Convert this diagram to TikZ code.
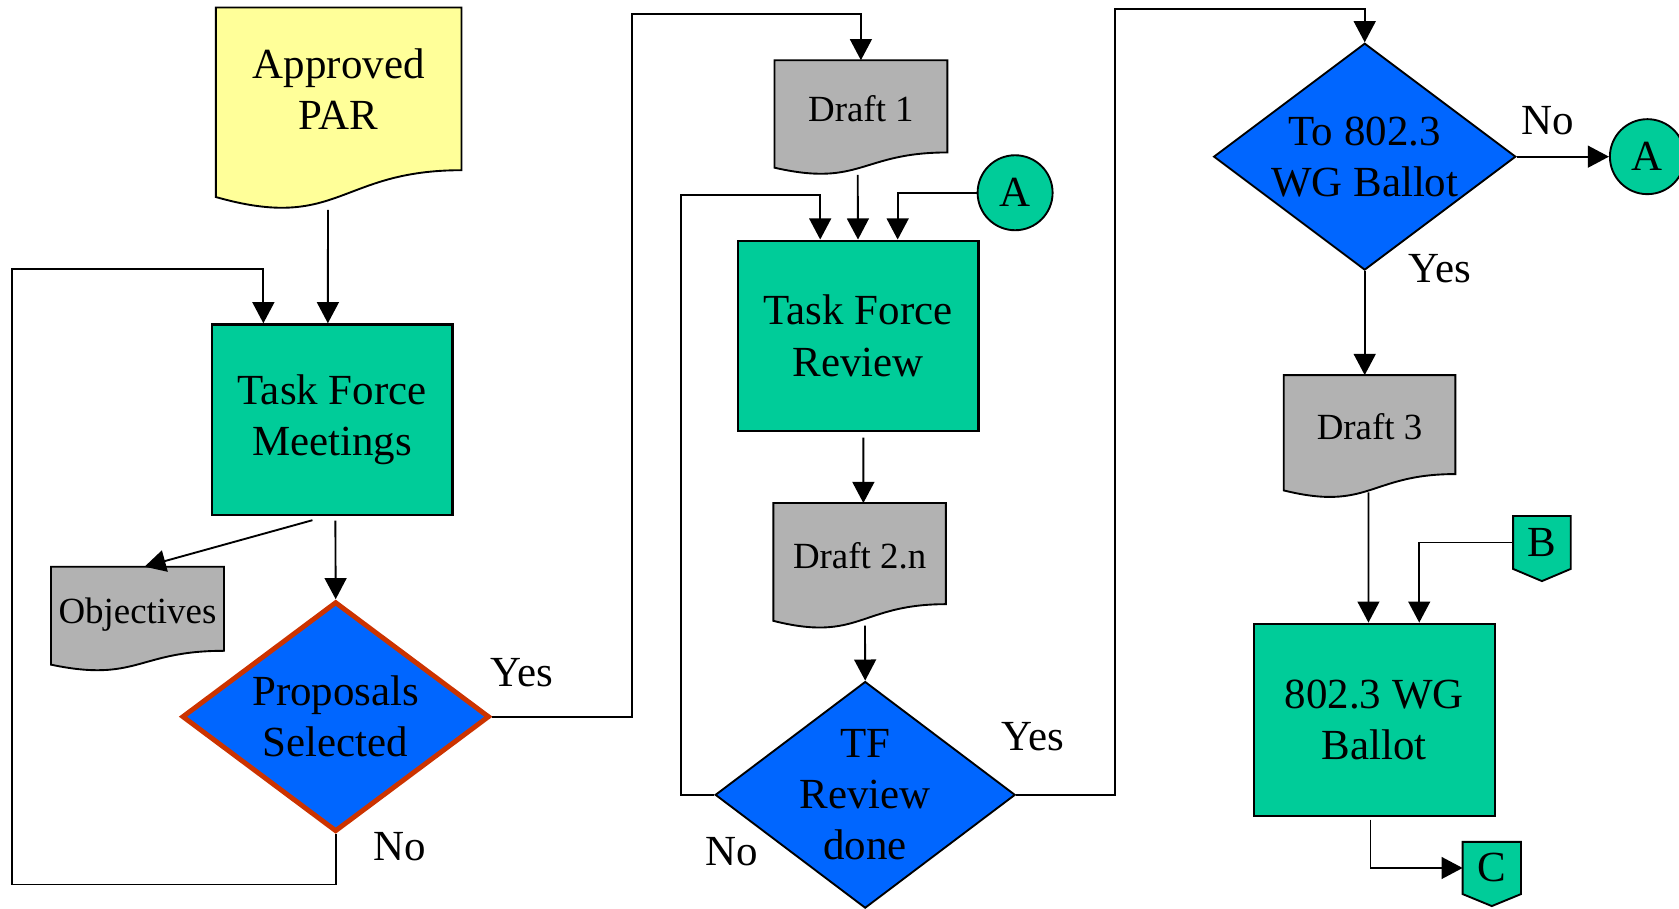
\documentclass[tikz,border=0pt]{standalone}
\usepackage{fontspec}
\setmainfont{Liberation Serif}
\usetikzlibrary{arrows.meta}
\usetikzlibrary{shapes.geometric}
\usetikzlibrary{calc}
\usetikzlibrary{backgrounds}
\definecolor{tfgreen}{RGB}{0,204,153}
\definecolor{decblue}{RGB}{0,102,255}
\definecolor{docgray}{RGB}{178,178,178}
\definecolor{paryellow}{RGB}{255,255,153}
\definecolor{selred}{RGB}{204,51,0}
\newcommand{\mainfnt}{\fontsize{11.4}{13.6}\selectfont}
\newcommand{\docfnt}{\fontsize{9.8}{11.8}\selectfont}
\tikzset{flow/.style = {-{Triangle[length=5.6pt, width=5.8pt]}, line width=0.5pt}}
\tikzset{proc/.style = {draw, fill=tfgreen, line width=0.6pt, inner sep=0, align=center, font=\mainfnt}}
\tikzset{pardoc/.style = {inner sep=0, align=center, font=\mainfnt}}
\tikzset{doc/.style = {inner sep=0, font=\docfnt, text height=0.3cm, text depth=0.02cm}}
\tikzset{decision/.style = {diamond, draw, fill=decblue, line width=0.5pt, inner sep=0}}
\tikzset{dlabel/.style = {align=center, font=\mainfnt, inner sep=0}}
\tikzset{conn/.style = {circle, draw, fill=tfgreen, line width=0.5pt, inner sep=0, minimum size=0.7cm, font=\mainfnt}}
\tikzset{offpage/.style = {inner sep=0, font=\mainfnt}}
\tikzset{lbl/.style = {anchor=base, inner sep=0, font=\mainfnt}}
\newcommand{\docshape}[2]{%
  \draw[line width=0.5pt, fill=#2] (#1.north west) -- (#1.north east) -- (#1.south east)
    .. controls (#1.south) and ($(#1.south)!-0.38!(#1.north)$)
    .. ($(#1.south west)!-0.165!(#1.north west)$) -- cycle;}
\newcommand{\offpageshape}[1]{%
  \draw[line width=0.5pt, fill=tfgreen] (#1.north west) -- (#1.north east) -- (#1.south east)
    -- ($(#1.south)!-0.23!(#1.north)$) -- (#1.south west) -- cycle;}

\begin{document}
\begin{tikzpicture}[x=0.01cm, y=-0.01cm]
  \useasboundingbox (0,0) rectangle (1568,848);

  \node [pardoc, minimum width=2.278cm, minimum height=1.504cm] (par) at (316.3,83) {Approved\\PAR};
  \node [proc, minimum width=2.247cm, minimum height=1.78cm] (tfm) at (310.2,392) {Task Force\\Meetings};
  \node [doc, minimum width=1.6cm, minimum height=0.771cm] (obj) at (128.4,568.5) {Objectives};
  \node [decision, draw=selred, line width=1.3pt, minimum width=2.87cm, minimum height=2.147cm,
         label={[dlabel]center:Proposals\\Selected}] (prop) at (313.5,669.3) {};
  \node [lbl] (yes1) at (487.5,641.3) {Yes};
  \node [lbl] (no1) at (373,803.2) {No};

  \node [doc, minimum width=1.6cm, minimum height=0.847cm] (d1) at (804,99.3) {Draft 1};
  \node [proc, minimum width=2.247cm, minimum height=1.778cm] (tfr) at (801.3,313.7) {Task Force\\Review};
  \node [conn] (a1) at (948,180) {A};
  \node [doc, minimum width=1.596cm, minimum height=0.93cm] (d2) at (802.8,517) {Draft 2.n};
  \node [decision, minimum width=2.8cm, minimum height=2.115cm,
         label={[dlabel]center:TF\\Review\\done}] (tfd) at (808,742.3) {};
  \node [lbl] (yes2) at (964.6,700.5) {Yes};
  \node [lbl] (no2) at (683.3,807.9) {No};

  \node [decision, minimum width=2.82cm, minimum height=2.117cm,
         label={[dlabel]center:To 802.3\\WG Ballot}] (wgq) at (1274.5,146.3) {};
  \node [lbl] (no3) at (1445.5,125.5) {No};
  \node [lbl] (yes3) at (1344.8,264) {Yes};
  \node [conn] (a2) at (1538.5,146.3) {A};
  \node [doc, minimum width=1.588cm, minimum height=0.91cm] (d3) at (1279,396.5) {Draft 3};
  \node [offpage, minimum width=0.524cm, minimum height=0.48cm] (b) at (1440,506.6) {B};
  \node [proc, minimum width=2.248cm, minimum height=1.793cm] (ballot) at (1283.4,672.2) {802.3 WG\\Ballot};
  \node [offpage, minimum width=0.531cm, minimum height=0.473cm] (c) at (1393.2,810.6) {C};

  \begin{scope}[on background layer]
    \docshape{par}{paryellow}
    \docshape{obj}{docgray}
    \docshape{d1}{docgray}
    \docshape{d2}{docgray}
    \docshape{d3}{docgray}
    \offpageshape{b}
    \offpageshape{c}
  \end{scope}

  \draw [flow] ([xshift=-0.1cm, yshift=-0.37cm]par.south) -- ([xshift=-0.04cm]tfm.north);
  \draw [flow] (prop.south) -- ++(0,47) -| (11,251) -| ([xshift=-0.642cm]tfm.north);
  \draw [flow] ([xshift=-0.184cm, yshift=-0.037cm]tfm.south) -- ([xshift=0.066cm]obj.north);
  \draw [flow] ([xshift=0.03cm, yshift=-0.04cm]tfm.south) -- (prop.north);
  \draw [flow] (prop.east) -| (590,13) -| (d1.north);

  \draw [flow] ([xshift=-0.03cm, yshift=-0.21cm]d1.south) -- (tfr.north);
  \draw [flow] (a1.west) -| ([xshift=0.37cm]tfr.north);
  \draw [flow] (tfd.west) -| (636,182) -| ([xshift=-0.353cm]tfr.north);
  \draw [flow] ([xshift=0.05cm, yshift=-0.05cm]tfr.south) -- ([xshift=0.035cm]d2.north);
  \draw [flow] ([xshift=0.05cm, yshift=-0.2cm]d2.south) -- (tfd.north);
  \draw [flow] (tfd.east) -| (1041,8) -| (wgq.north);

  \draw [flow] (wgq.east) -- (a2.west);
  \draw [flow] (wgq.south) -- (wgq.south |- d3.north);
  \draw [flow] ([xshift=-0.01cm, yshift=-0.17cm]d3.south) -- ([xshift=-0.054cm]ballot.north);
  \draw [flow] (b.west) -| ([xshift=0.42cm]ballot.north);
  \draw [flow] ([xshift=-0.035cm, yshift=-0.025cm]ballot.south) |- (c.west);
\end{tikzpicture}
\end{document}
